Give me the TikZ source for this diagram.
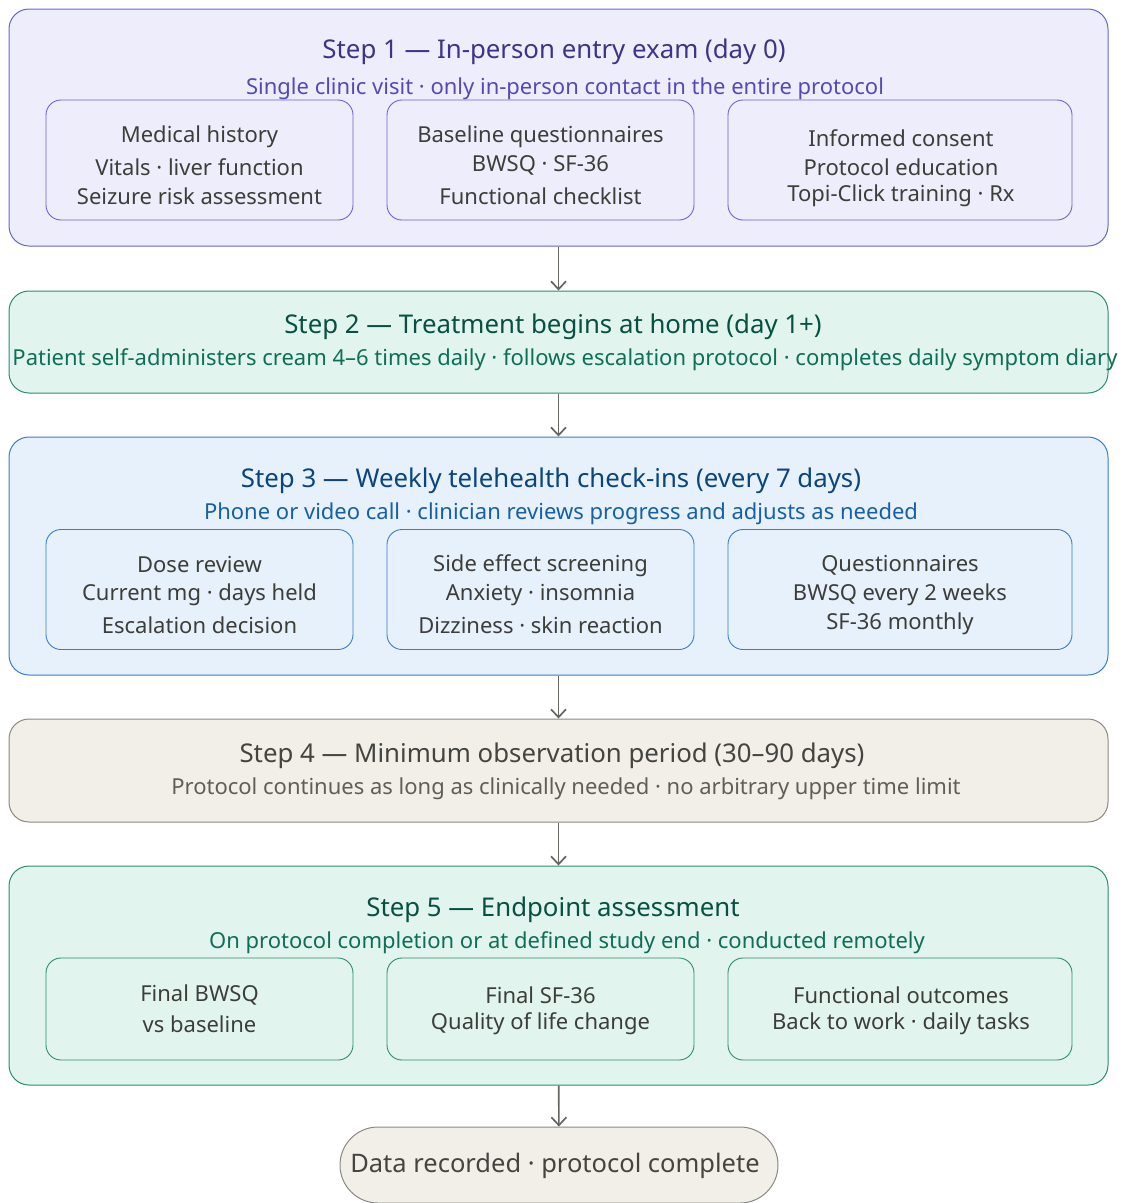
\documentclass[tikz,border=0pt]{standalone}
\usepackage{fontspec}
\setmainfont{Noto Sans}
\usetikzlibrary{arrows.meta}

\definecolor{vfill}{HTML}{EEEDFC}
\definecolor{vline}{HTML}{6A62D0}
\definecolor{vtitle}{HTML}{3C3489}
\definecolor{vsub}{HTML}{534AB7}
\definecolor{tfill}{HTML}{E1F5EE}
\definecolor{tline}{HTML}{2E8B6E}
\definecolor{ttitle}{HTML}{085041}
\definecolor{tsub}{HTML}{0F6E56}
\definecolor{bfill}{HTML}{E6F1FB}
\definecolor{bline}{HTML}{3B7DC4}
\definecolor{btitle}{HTML}{0C447C}
\definecolor{bsub}{HTML}{185FA5}
\definecolor{gfill}{HTML}{F1EFE8}
\definecolor{gline}{HTML}{8A8983}
\definecolor{gtitle}{HTML}{444441}
\definecolor{gsub}{HTML}{5F5E5A}
\definecolor{bodytext}{HTML}{3D3D3A}
\definecolor{arrowgray}{HTML}{66655F}

\begin{document}
\begin{tikzpicture}[x = 1pt, y = -1pt,
                    stepbox/.style = {draw, rounded corners = 20pt, line width = 1pt, inner sep = 0pt},
                    subbox/.style = {draw, rounded corners = 15pt, line width = 0.9pt, inner sep = 0pt,
                                     minimum height = 120pt},
                    txt/.style = {inner sep = 0pt, text height = 0.4em, text depth = 0pt, yshift = -6pt},
                    title/.style = {txt, font = \fontsize{25.8}{30}\selectfont},
                    subtitle/.style = {txt, font = \fontsize{22}{26}\selectfont},
                    body/.style = {txt, text = bodytext, font = \fontsize{22}{26}\selectfont},
                    flow/.style = {draw = arrowgray, line width = 1.7pt, -{Straight Barb[length = 8pt, width = 15pt]}}]
    \useasboundingbox (0, 0) rectangle (1123, 1203);

    % step 1
    \node [stepbox, fill = vfill, draw = vline, minimum width = 1099pt, minimum height = 237pt] (s1) at (558.5, 127.5) {};
    \node [title, text = vtitle] (s1t) at (554, 50) {Step 1 — In-person entry exam (day 0)};
    \node [subtitle, text = vsub] (s1s) at (565, 86) {Single clinic visit · only in-person contact in the entire protocol};
    \node [subbox, draw = vline, minimum width = 307pt] (s1a) at (199.5, 160) {};
    \node [subbox, draw = vline, minimum width = 307pt] (s1b) at (540.5, 160) {};
    \node [subbox, draw = vline, minimum width = 344pt] (s1c) at (900, 160) {};
    \node [body] (s1a1) at (199.5, 134) {Medical history};
    \node [body] (s1a2) at (199.5, 167) {Vitals · liver function};
    \node [body] (s1a3) at (199.5, 196) {Seizure risk assessment};
    \node [body] (s1b1) at (540.5, 134) {Baseline questionnaires};
    \node [body] (s1b2) at (540.5, 163) {BWSQ · SF-36};
    \node [body] (s1b3) at (540.5, 196) {Functional checklist};
    \node [body] (s1c1) at (901, 138) {Informed consent};
    \node [body] (s1c2) at (901, 167) {Protocol education};
    \node [body] (s1c3) at (901, 193) {Topi-Click training · Rx};

    % step 2
    \node [stepbox, fill = tfill, draw = tline, minimum width = 1099pt, minimum height = 102pt] (s2) at (558.5, 342) {};
    \node [title, text = ttitle] (s2t) at (553, 325) {Step 2 — Treatment begins at home (day 1+)};
    \node [subtitle, text = tsub] (s2s) at (565, 357) {Patient self-administers cream 4–6 times daily · follows escalation protocol · completes daily symptom diary};

    % step 3
    \node [stepbox, fill = bfill, draw = bline, minimum width = 1099pt, minimum height = 238pt] (s3) at (558.5, 556) {};
    \node [title, text = btitle] (s3t) at (551, 479) {Step 3 — Weekly telehealth check-ins (every 7 days)};
    \node [subtitle, text = bsub] (s3s) at (561, 511) {Phone or video call · clinician reviews progress and adjusts as needed};
    \node [subbox, draw = bline, minimum width = 307pt] (s3a) at (199.5, 589.5) {};
    \node [subbox, draw = bline, minimum width = 307pt] (s3b) at (540.5, 589.5) {};
    \node [subbox, draw = bline, minimum width = 344pt] (s3c) at (900, 589.5) {};
    \node [body] (s3a1) at (199.5, 564) {Dose review};
    \node [body] (s3a2) at (199.5, 592) {Current mg · days held};
    \node [body] (s3a3) at (199.5, 625) {Escalation decision};
    \node [body] (s3b1) at (540.5, 563) {Side effect screening};
    \node [body] (s3b2) at (540.5, 592) {Anxiety · insomnia};
    \node [body] (s3b3) at (540.5, 625) {Dizziness · skin reaction};
    \node [body] (s3c1) at (900, 563) {Questionnaires};
    \node [body] (s3c2) at (900, 592) {BWSQ every 2 weeks};
    \node [body] (s3c3) at (900, 621) {SF-36 monthly};

    % step 4
    \node [stepbox, fill = gfill, draw = gline, minimum width = 1099pt, minimum height = 103pt] (s4) at (558.5, 770.5) {};
    \node [title, text = gtitle] (s4t) at (552, 754) {Step 4 — Minimum observation period (30–90 days)};
    \node [subtitle, text = gsub] (s4s) at (566, 786) {Protocol continues as long as clinically needed · no arbitrary upper time limit};

    % step 5
    \node [stepbox, fill = tfill, draw = tline, minimum width = 1099pt, minimum height = 219pt] (s5) at (558.5, 975.5) {};
    \node [title, text = ttitle] (s5t) at (553, 908) {Step 5 — Endpoint assessment};
    \node [subtitle, text = tsub] (s5s) at (567, 940) {On protocol completion or at defined study end · conducted remotely};
    \node [subbox, draw = tline, minimum width = 307pt, minimum height = 102pt] (s5a) at (199.5, 1009) {};
    \node [subbox, draw = tline, minimum width = 307pt, minimum height = 102pt] (s5b) at (540.5, 1009) {};
    \node [subbox, draw = tline, minimum width = 344pt, minimum height = 102pt] (s5c) at (900, 1009) {};
    \node [body] (s5a1) at (199.5, 993) {Final BWSQ};
    \node [body] (s5a2) at (199.5, 1024) {vs baseline};
    \node [body] (s5b1) at (540.5, 995) {Final SF-36};
    \node [body] (s5b2) at (540.5, 1021) {Quality of life change};
    \node [body] (s5c1) at (901, 995) {Functional outcomes};
    \node [body] (s5c2) at (901, 1021) {Back to work · daily tasks};

    % end
    \node [draw = gline, fill = gfill, line width = 1pt, rounded corners = 38pt, inner sep = 0pt,
           minimum width = 438pt, minimum height = 76pt] (done) at (559, 1165) {};
    \node [txt, text = gtitle, font = \fontsize{25.5}{30}\selectfont] (donet) at (555, 1164) {Data recorded · protocol complete};

    \draw [flow] (s1) -- (s2);
    \draw [flow] (s2) -- (s3);
    \draw [flow] (s3) -- (s4);
    \draw [flow] (s4) -- (s5);
    \draw [flow] (s5) -- (done);
\end{tikzpicture}
\end{document}
